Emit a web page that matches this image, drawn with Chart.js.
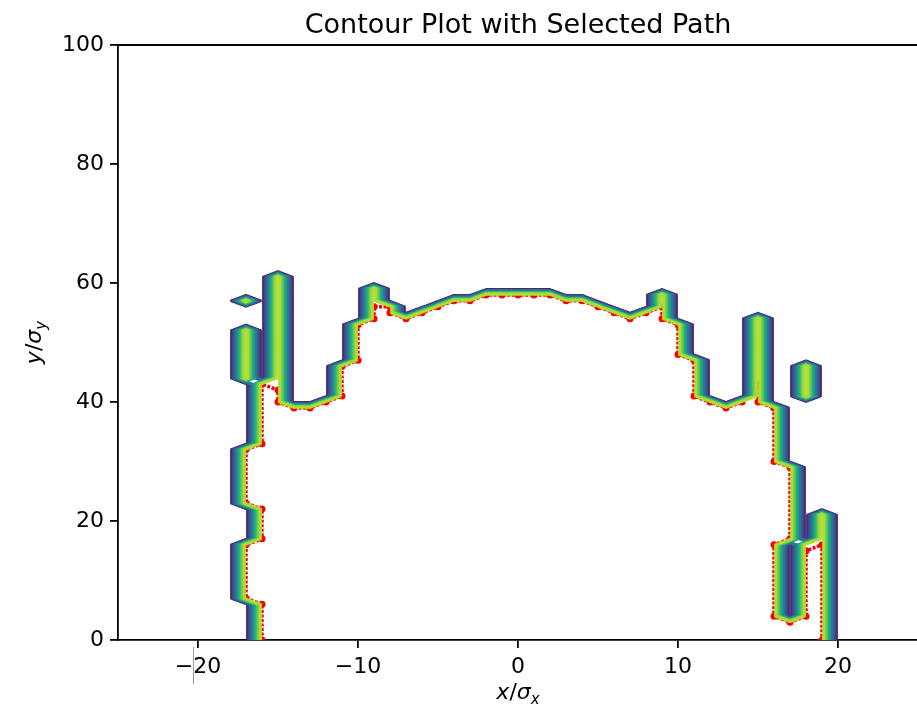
<!DOCTYPE html>
<html>
<head>
<meta charset="utf-8">
<script src="https://cdn.jsdelivr.net/npm/chart.js@4.4.1/dist/chart.umd.min.js"></script>
<style>
    html, body { margin: 0; padding: 0; background: #fff; overflow: hidden; }
    canvas { display: block; }
</style>
</head>
<body>
<canvas id="contourChart" width="930" height="711"></canvas>
<script>
// grid of the field (step 1 in both directions)
const gridXRange = [-25, 25];
const gridYRange = [0, 100];

// where the field is 1: one column interval per entry
const colX    = [-17, -17, -17, -17, -16, -15, -14, -13, -12, -11, -10, -9, -8, -7, -6, -5, -4, -3, -2, -1, 0, 1, 2, 3, 4, 5, 6, 7, 8, 9, 10, 11, 12, 13, 14, 15, 16, 17, 17, 18, 18, 19];
const colLow  = [7, 23, 44, 57, 0, 0, 0, 0, 0, 0, 0, 0, 0, 0, 0, 0, 0, 0, 0, 0, 0, 0, 0, 0, 0, 0, 0, 0, 0, 0, 0, 0, 0, 0, 0, 0, 0, 0, 17, 0, 41, 0];
const colHigh = [16, 32, 52, 57, 43, 61, 39, 39, 40, 46, 53, 59, 56, 54, 55, 56, 57, 57, 58, 58, 58, 58, 58, 57, 57, 56, 55, 54, 55, 58, 53, 47, 40, 39, 40, 54, 39, 3, 29, 16, 46, 21];

// contour levels and their viridis colours
const levels = [0.1, 0.2, 0.3, 0.4, 0.5, 0.6, 0.7, 0.8, 0.9];
const levelColors = ['#482475', '#414487', '#355f8d', '#2a788e', '#21918c', '#22a884', '#44bf70', '#7ad151', '#b0dc2e'];

// selected path
const pathX = [-16, -16, -17, -17, -16, -16, -17, -17, -16, -16, -15, -15, -14, -13, -12, -11, -11, -10, -10, -9, -9, -8, -8, -7, -6, -5, -4, -3, -2, -1, 0, 1, 2, 3, 4, 5, 6, 7, 8, 9, 9, 10, 10, 11, 11, 12, 13, 14, 15, 15, 16, 16, 17, 17, 16, 16, 17, 18, 18, 19, 19];
const pathY = [0, 6, 7, 16, 17, 22, 23, 32, 33, 43, 42, 40, 39, 39, 40, 41, 46, 47, 53, 54, 56, 56, 55, 54, 55, 56, 57, 57, 58, 58, 58, 58, 58, 57, 57, 56, 55, 54, 55, 56, 54, 53, 48, 47, 41, 40, 39, 40, 43, 40, 39, 30, 29, 17, 16, 4, 3, 4, 15, 16, 0];

// ticks
const xTicks = [-20, -10, 0, 10, 20];
const yTicks = [0, 20, 40, 60, 80, 100];

// build the 0/1 grid
function buildGrid() {
    const nx = gridXRange[1] - gridXRange[0] + 1;
    const ny = gridYRange[1] - gridYRange[0] + 1;
    const g = [];
    for (let j = 0; j < ny; j++) g.push(new Array(nx).fill(0));
    colX.forEach((x, k) => {
        for (let y = colLow[k]; y <= colHigh[k]; y++) {
            g[y - gridYRange[0]][x - gridXRange[0]] = 1;
        }
    });
    return g;
}

// marching squares -> list of {x,y} with breaks between segments
function contourSegments(g, lvl) {
    const out = [];
    const ny = g.length, nx = g[0].length;
    const x0 = gridXRange[0], y0 = gridYRange[0];
    for (let j = 0; j < ny - 1; j++) {
        for (let i = 0; i < nx - 1; i++) {
            const v0 = g[j][i], v1 = g[j][i + 1], v2 = g[j + 1][i + 1], v3 = g[j + 1][i];
            const idx = (v0 > lvl ? 1 : 0) | (v1 > lvl ? 2 : 0) | (v2 > lvl ? 4 : 0) | (v3 > lvl ? 8 : 0);
            if (idx === 0 || idx === 15) continue;
            const xi = x0 + i, yj = y0 + j;
            const e = [
                { x: xi + (lvl - v0) / (v1 - v0), y: yj },
                { x: xi + 1, y: yj + (lvl - v1) / (v2 - v1) },
                { x: xi + (lvl - v3) / (v2 - v3), y: yj + 1 },
                { x: xi, y: yj + (lvl - v0) / (v3 - v0) }
            ];
            const center = (v0 + v1 + v2 + v3) / 4;
            let segs;
            switch (idx) {
                case 1: case 14: segs = [[3, 0]]; break;
                case 2: case 13: segs = [[0, 1]]; break;
                case 3: case 12: segs = [[3, 1]]; break;
                case 4: case 11: segs = [[1, 2]]; break;
                case 6: case 9: segs = [[0, 2]]; break;
                case 7: case 8: segs = [[3, 2]]; break;
                case 5: segs = center > lvl ? [[0, 1], [2, 3]] : [[3, 0], [1, 2]]; break;
                case 10: segs = center > lvl ? [[3, 0], [1, 2]] : [[0, 1], [2, 3]]; break;
            }
            segs.forEach(([a, b]) => {
                out.push(e[a], e[b], { x: e[b].x, y: null });
            });
        }
    }
    return out;
}

const grid = buildGrid();

const datasets = levels.map((lvl, k) => ({
    label: 'level ' + lvl,
    data: contourSegments(grid, lvl),
    showLine: true,
    spanGaps: false,
    borderColor: levelColors[k],
    borderWidth: 3,
    borderCapStyle: 'round',
    borderJoinStyle: 'round',
    pointRadius: 0,
    clip: 0,
    order: levels.length - k
}));

datasets.push({
    label: 'Selected Path',
    data: pathX.map((x, i) => ({ x: x, y: pathY[i] })),
    showLine: true,
    borderColor: '#ff0000',
    borderWidth: 3.5,
    borderDash: [3, 1.5],
    pointRadius: 3.5,
    pointBackgroundColor: '#ff0000',
    pointBorderWidth: 0,
    clip: 0,
    order: 20
});

// draw a label like x/σ_x with italic letters and a subscript
function drawMathLabel(ctx, letter, cx, baseline) {
    const parts = [
        { t: letter, f: 'italic 22px "DejaVu Sans"', dy: 0 },
        { t: '/', f: '22px "DejaVu Sans"', dy: 0 },
        { t: '\u03c3', f: 'italic 22px "DejaVu Sans"', dy: 0 },
        { t: letter, f: 'italic 15px "DejaVu Sans"', dy: 5 }
    ];
    let total = 0;
    parts.forEach(p => { ctx.font = p.f; p.w = ctx.measureText(p.t).width; total += p.w; });
    let x = cx - total / 2;
    ctx.textAlign = 'left';
    ctx.textBaseline = 'alphabetic';
    parts.forEach(p => {
        ctx.font = p.f;
        ctx.fillText(p.t, x, baseline + p.dy);
        x += p.w;
    });
}

const framePlugin = {
    id: 'frame',
    afterDraw(chart) {
        const { ctx, chartArea: a } = chart;
        ctx.save();
        ctx.strokeStyle = '#000';
        ctx.lineWidth = 1.8;
        ctx.beginPath();
        ctx.moveTo(a.left, a.top);
        ctx.lineTo(a.right, a.top);
        ctx.lineTo(a.right, a.bottom);
        ctx.stroke();

        ctx.fillStyle = '#000';
        ctx.font = '27px "DejaVu Sans"';
        ctx.textAlign = 'center';
        ctx.textBaseline = 'alphabetic';
        ctx.fillText('Contour Plot with Selected Path', (a.left + a.right) / 2, a.top - 12);

        drawMathLabel(ctx, 'x', (a.left + a.right) / 2, 699);

        ctx.save();
        ctx.translate(41, (a.top + a.bottom) / 2);
        ctx.rotate(-Math.PI / 2);
        drawMathLabel(ctx, 'y', 0, 0);
        ctx.restore();

        // stray grey mark under the -20 label
        ctx.strokeStyle = '#9a9a9a';
        ctx.lineWidth = 1;
        ctx.beginPath();
        ctx.moveTo(193.5, 647);
        ctx.lineTo(193.5, 684);
        ctx.stroke();
        ctx.restore();
    }
};

const tickFmt = v => (v < 0 ? '\u2212' + Math.abs(v) : String(v));

const axisCommon = {
    type: 'linear',
    grid: { display: true, drawOnChartArea: false, drawTicks: true, tickLength: 8, color: '#000', lineWidth: 1.8 },
    border: { display: true, color: '#000', width: 1.8 },
    ticks: { color: '#000', font: { family: 'DejaVu Sans', size: 22 }, padding: 6, callback: tickFmt }
};

new Chart(document.getElementById('contourChart'), {
    type: 'scatter',
    data: { datasets: datasets },
    options: {
        responsive: false,
        animation: false,
        devicePixelRatio: 1,
        layout: { padding: { top: 45, right: 12, left: 0, bottom: 0 } },
        plugins: { legend: { display: false }, tooltip: { enabled: false }, title: { display: false } },
        scales: {
            x: Object.assign({}, axisCommon, {
                min: -25, max: 25,
                afterBuildTicks: s => { s.ticks = xTicks.map(v => ({ value: v })); },
                afterFit: s => { s.height = 71; }
            }),
            y: Object.assign({}, axisCommon, {
                min: 0, max: 100,
                afterBuildTicks: s => { s.ticks = yTicks.map(v => ({ value: v })); },
                afterFit: s => { s.width = 118; }
            })
        }
    },
    plugins: [framePlugin]
});
</script>
</body>
</html>
